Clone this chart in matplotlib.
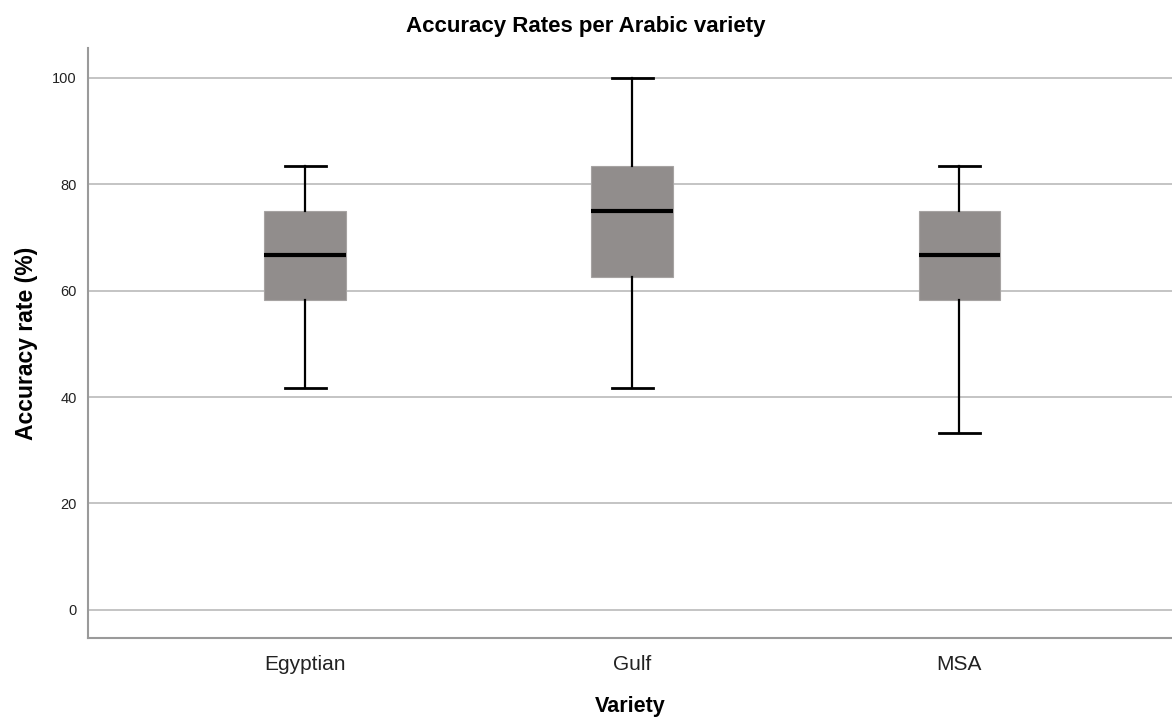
import matplotlib.pyplot as plt

varieties = ["Egyptian", "Gulf", "MSA"]
whisker_low = [41.67, 41.67, 33.33]
q1 = [58.33, 62.5, 58.33]
median = [66.67, 75.0, 66.67]
q3 = [75.0, 83.33, 75.0]
whisker_high = [83.33, 100.0, 83.33]

plt.rcParams['font.family'] = ['Liberation Sans', 'DejaVu Sans']

fig = plt.figure(figsize=(11.72, 7.22), dpi=100)
ax = fig.add_axes([0.0751, 0.1163, 0.9249, 0.8172])

stats = []
for i, name in enumerate(varieties):
    stats.append({
        'label': name,
        'whislo': whisker_low[i],
        'q1': q1[i],
        'med': median[i],
        'q3': q3[i],
        'whishi': whisker_high[i],
        'fliers': [],
    })

ax.bxp(stats, positions=range(len(varieties)), widths=0.25, patch_artist=True,
       showfliers=False,
       boxprops=dict(facecolor='#918d8c', edgecolor='#a6a3a2', linewidth=0.8),
       medianprops=dict(color='black', linewidth=3),
       whiskerprops=dict(color='black', linewidth=1.6),
       capprops=dict(color='black', linewidth=2.0),
       capwidths=0.125, zorder=3)

ax.set_xlim(-0.664, 2.65)
ax.set_ylim(-5.3, 105.6)
ax.set_yticks([0, 20, 40, 60, 80, 100])
ax.yaxis.grid(True, color='#c4c4c4', linewidth=1.4, zorder=0)
ax.set_axisbelow(True)

for side in ['top', 'right']:
    ax.spines[side].set_visible(False)
for side in ['left', 'bottom']:
    ax.spines[side].set_color('#9a9a9a')
    ax.spines[side].set_linewidth(1.5)

ax.tick_params(axis='both', length=0)
ax.tick_params(axis='y', labelsize=10.5, colors='#222222', pad=8)
ax.tick_params(axis='x', labelsize=15, colors='#222222', pad=12)
ax.set_xticks(range(len(varieties)))
ax.set_xticklabels(varieties)

ax.set_ylabel("Accuracy rate (%)", fontsize=16.5, fontweight='bold', labelpad=10)
ax.set_xlabel("Variety", fontsize=15.5, fontweight='bold', labelpad=16)
fig.text(0.5, 0.963, "Accuracy Rates per Arabic variety", ha='center', va='center',
         fontsize=16, fontweight='bold')

fig.savefig("out.png", dpi=100)
plt.close("all")
